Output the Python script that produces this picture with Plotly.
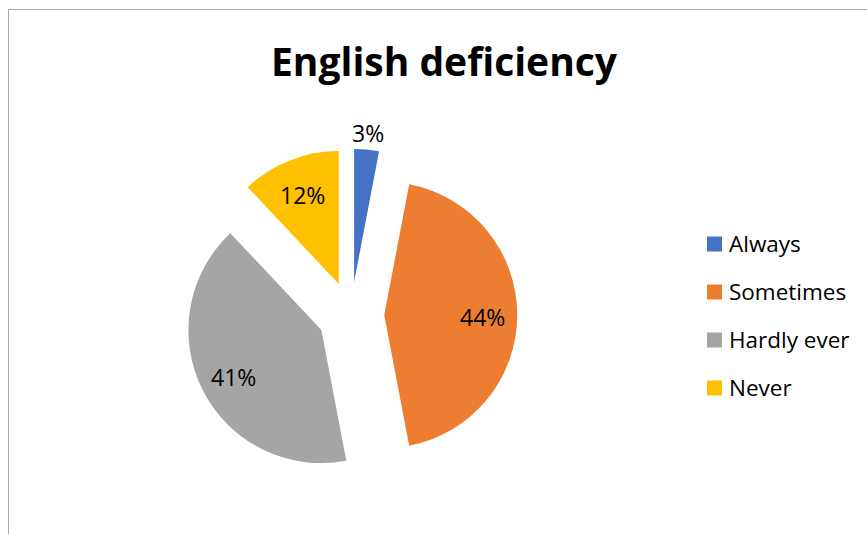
import math
import plotly.graph_objects as go

# Survey responses
labels = ["Always", "Sometimes", "Hardly ever", "Never"]
values = [3, 44, 41, 12]
colors = ["#4472C4", "#ED7D31", "#A5A5A5", "#FFC000"]
label_outside = [True, False, False, False]
title_text = "English deficiency"

W, H = 867, 534
FONT = "Open Sans"
PULL = 0.25

# pie placement (pixels)
CX, CY = 351, 315
R = 133
HALF = R * (1 + PULL)


def px(x):
    return x / W


def py(y):
    return 1 - y / H


fig = go.Figure()

fig.add_trace(go.Pie(
    labels=labels,
    values=values,
    sort=False,
    direction="clockwise",
    rotation=0,
    pull=[PULL] * len(values),
    marker=dict(colors=colors, line=dict(width=0)),
    textinfo="none",
    showlegend=False,
    automargin=False,
    domain=dict(x=[px(CX - HALF), px(CX + HALF)], y=[py(CY + HALF), py(CY - HALF)]),
    hoverinfo="label+percent",
))

shapes = [
    # chart area border
    dict(type="rect", xref="paper", yref="paper",
         x0=px(8.5), x1=px(W * 3), y0=py(9.5), y1=py(H * 3),
         line=dict(color="#A6A6A6", width=1), fillcolor="rgba(0,0,0,0)", layer="below"),
]
annotations = []

# Percentage labels placed along each slice's mid-angle
total = sum(values)
cum = 0
for v, outside in zip(values, label_outside):
    mid = (cum + v / 2) / total * 2 * math.pi
    cum += v
    dx, dy = math.sin(mid), -math.cos(mid)
    dist = R * PULL + R * (1.14 if outside else 0.74)
    annotations.append(dict(text="%d%%" % round(100 * v / total),
                            xref="paper", yref="paper",
                            x=px(CX + dx * dist), y=py(CY + dy * dist + 2),
                            xanchor="center", yanchor="middle", showarrow=False,
                            font=dict(family=FONT, size=23, color="#000000")))

# Legend drawn as colour swatches with labels
leg_x0, leg_size = 707, 15
leg_y0, leg_step = 244, 48
for i, (lab, col) in enumerate(zip(labels, colors)):
    cy = leg_y0 + i * leg_step
    shapes.append(dict(type="rect", xref="paper", yref="paper",
                       x0=px(leg_x0), x1=px(leg_x0 + leg_size),
                       y0=py(cy + leg_size / 2), y1=py(cy - leg_size / 2),
                       line=dict(width=0), fillcolor=col))
    annotations.append(dict(text=lab, xref="paper", yref="paper",
                            x=px(leg_x0 + leg_size + 5), y=py(cy - 1),
                            xanchor="left", yanchor="middle", showarrow=False,
                            font=dict(family=FONT, size=22.5, color="#000000")))

fig.update_layout(
    width=W, height=H,
    margin=dict(l=0, r=0, t=0, b=0),
    paper_bgcolor="#FFFFFF",
    plot_bgcolor="#FFFFFF",
    title=dict(text="<b>%s</b>" % title_text, x=px(444), y=py(62),
               xanchor="center", yanchor="middle",
               font=dict(family=FONT, size=39, color="#000000")),
    shapes=shapes,
    annotations=annotations,
)

fig.write_html("out.html")
